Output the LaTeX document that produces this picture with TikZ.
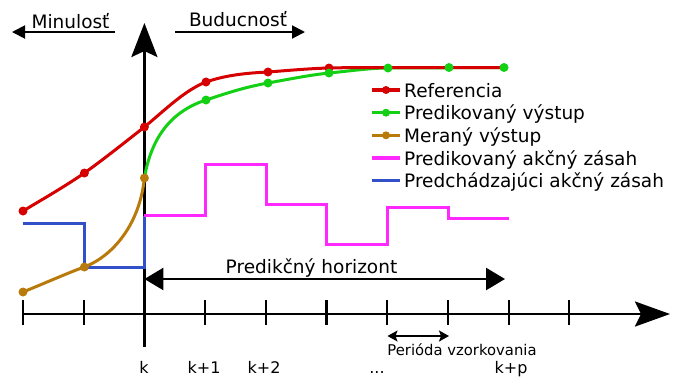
\documentclass[tikz,border=0pt]{standalone}
\usepackage{fontspec}
\setmainfont{DejaVu Sans}
\usetikzlibrary{arrows.meta}

\definecolor{refred}{RGB}{214,0,0}
\definecolor{predgreen}{RGB}{20,208,20}
\definecolor{measbrown}{RGB}{184,122,10}
\definecolor{ctrlmag}{RGB}{255,40,255}
\definecolor{pastblue}{RGB}{50,80,200}

\begin{document}
\begin{tikzpicture}[x=1pt,y=-1pt,
  axisline/.style={line width=2.8pt,black},
  tickline/.style={line width=2.2pt,black},
  curve/.style={line width=3pt,line cap=round,line join=round},
  stair/.style={line width=3pt,line join=miter},
  dot/.style={circle,inner sep=0pt,minimum size=9pt},
  legdot/.style={circle,inner sep=0pt,minimum size=8pt},
  bigtxt/.style={font=\fontsize{18.5}{21}\selectfont,inner sep=0pt},
  ticktxt/.style={font=\fontsize{16}{18}\selectfont,inner sep=0pt,anchor=base},
  smalltxt/.style={font=\fontsize{14.8}{17}\selectfont,inner sep=0pt,anchor=base}]
\useasboundingbox (0,0) rectangle (684,376);

% sampling instants on the time axis
\foreach \i in {0,...,9} {
  \coordinate (t\i) at ({23+60.7*\i},314);
}

% time axis with ticks
\draw[axisline,-{Stealth[length=35pt,width=25pt,inset=6pt]}] (22,314) -- (670,314);
\foreach \i in {0,...,9} {
  \draw[tickline] ([yshift=14pt]t\i) -- ([yshift=-11pt]t\i);
}
% vertical axis at instant k
\coordinate (vbot) at (144.4,347);
\coordinate (vtop) at (144.4,23);
\draw[axisline,-{Stealth[length=34pt,width=26pt,inset=6pt]}] (vbot) -- (vtop);

% past / future arrows
\coordinate (pastA) at (115,32);
\coordinate (pastB) at (12,32);
\coordinate (futA) at (175,32);
\coordinate (futB) at (305,32);
\draw[line width=1.9pt,-{Triangle[length=13pt,width=13pt]}] (pastA) -- (pastB);
\draw[line width=1.9pt,-{Triangle[length=13pt,width=13pt]}] (futA) -- (futB);
\node[bigtxt,anchor=base] (past) at (70.5,28) {Minulosť};
\node[bigtxt,anchor=base] (future) at (238,26) {Buducnosť};

% prediction horizon
\coordinate (horA) at (144.4,279);
\coordinate (horB) at (505,279);
\draw[line width=2.5pt,{Triangle[length=19pt,width=22pt]}-{Triangle[length=19pt,width=22pt]}] (horA) -- (horB);
\node[bigtxt,anchor=base] (horizon) at (311.5,273) {Predikčný horizont};

% sampling period
\coordinate (perA) at (387.5,336);
\coordinate (perB) at (449,336);
\draw[line width=1.6pt,{Stealth[length=10pt,width=11pt,inset=2pt]}-{Stealth[length=10pt,width=11pt,inset=2pt]}] (perA) -- (perB);
\node[smalltxt] (period) at (462,355) {Perióda vzorkovania};

% instant labels
\node[ticktxt] (lk)  at (144,373) {k};
\node[ticktxt] (lk1) at (204,373) {k+1};
\node[ticktxt] (lk2) at (264,373) {k+2};
\node[ticktxt] (ldots) at (377,373) {...};
\node[ticktxt] (lkp) at (511,373) {k+p};

% past control action
\draw[stair,pastblue] (23,223) -- (84.4,223) -- (84.4,267) -- (144.4,267) -- (144.4,216);

% predicted control action
\draw[stair,ctrlmag] (144.4,215) -- (205.4,215) -- (205.4,164) -- (266.1,164) -- (266.1,204)
  -- (326.8,204) -- (326.8,244) -- (387.5,244) -- (387.5,207) -- (448.2,207)
  -- (448.2,218) -- (508.9,218);

% predicted output
\draw[curve,predgreen] (144.4,178) .. controls (152,133) and (175,110) .. (206,100)
  .. controls (230,92) and (246,87) .. (268,83)
  .. controls (290,79) and (310,75) .. (329,73)
  .. controls (350,71) and (370,68) .. (388,68) -- (504,67.5);

% reference
\draw[curve,refred] (23,211) .. controls (43,199) and (64,187) .. (84.4,173)
  .. controls (104,159) and (124,143) .. (144.4,127)
  .. controls (165,110) and (185,90) .. (206,82)
  .. controls (226,75) and (247,73) .. (268,72)
  .. controls (288,70.5) and (309,68.5) .. (329,68)
  .. controls (349,67.5) and (368,67.5) .. (388,67.5) -- (504,67.5);
\foreach \p [count=\n] in {(23,211),(84.4,173),(144.4,127),(206,82),(268,72),(329,68)} {
  \node[dot,fill=refred] (r\n) at \p {};
}
\foreach \p [count=\n] in {(206,100),(268,83),(329,73),(388,68),(449,67.5),(504,67.5)} {
  \node[dot,fill=predgreen] (g\n) at \p {};
}

% measured output
\draw[curve,measbrown] (23,292) .. controls (50,281) and (70,272) .. (84.4,267)
  .. controls (115,255) and (140,222) .. (144.4,178);
\foreach \p [count=\n] in {(23,292),(84.4,267),(144.4,178)} {
  \node[dot,fill=measbrown] (m\n) at \p {};
}

% legend
\foreach \c/\t/\y/\d [count=\n] in {
  refred/Referencia/90/1,
  predgreen/Predikovaný výstup/112.7/1,
  measbrown/Meraný výstup/135.3/1,
  ctrlmag/Predikovaný akčný zásah/158/0,
  pastblue/Predchádzajúci akčný zásah/180.6/0} {
  \coordinate (la\n) at (372,\y);
  \coordinate (lb\n) at (400,\y);
  \draw[line width=3.2pt,\c] (la\n) -- (lb\n);
  \ifnum\d=1 \node[legdot,fill=\c] (ld\n) at (386,\y) {}; \fi
  \node[bigtxt,anchor=base west] (lt\n) at (404,\y+7) {\t};
}
\end{tikzpicture}
\end{document}
